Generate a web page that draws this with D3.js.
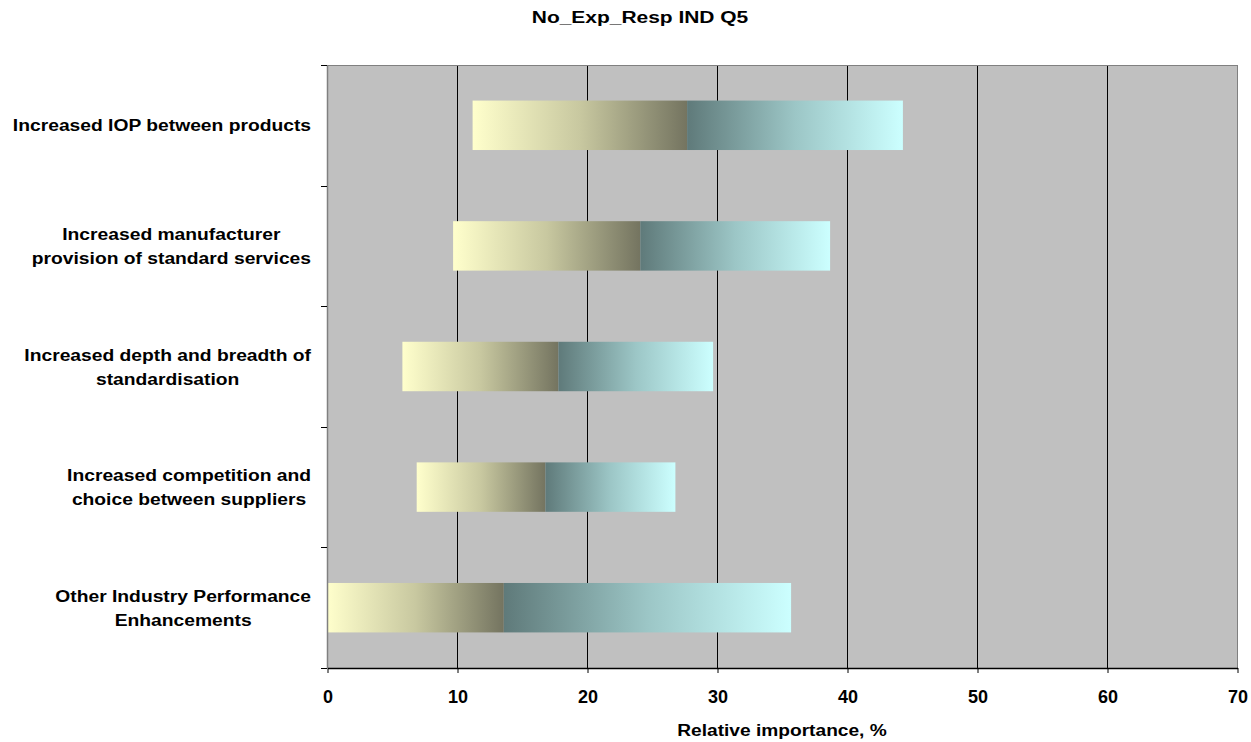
<!DOCTYPE html>
<html><head><meta charset="utf-8">
<script src="https://cdn.jsdelivr.net/npm/d3@7"></script>
<style>body{margin:0;background:#fff;} text{font-family:"Liberation Sans",Arial,sans-serif;font-weight:bold;fill:#000;}</style>
</head><body><svg id="c" width="1251" height="742"></svg>
<script>
const categories = [
  ["Increased IOP between products"],
  ["Increased manufacturer","provision of standard services"],
  ["Increased depth and breadth of","standardisation"],
  ["Increased competition and","choice between suppliers"],
  ["Other Industry Performance","Enhancements"]
];
const startValues = [11.2, 9.7, 5.8, 6.9, 0];
const midValues   = [27.7, 24.1, 17.8, 16.8, 13.6];
const endValues   = [44.3, 38.7, 29.7, 26.8, 35.7];
const xTicks = [0,10,20,30,40,50,60,70];
const title = "No_Exp_Resp IND Q5";
const xTitle = "Relative importance, %";

const svg = d3.select("#c");
const L=327, R=1237, T=65, B=668;
const x = d3.scaleLinear().domain([0,70]).range([L,R]);
const y = d3.scaleBand().domain(d3.range(categories.length)).range([T,B]).paddingInner(0.59).paddingOuter(0.295);
const yb = d3.scaleBand().domain(d3.range(categories.length)).range([T,B]);

const defs = svg.append("defs");
const g1 = defs.append("linearGradient").attr("id","gL");
g1.append("stop").attr("offset","0%").attr("stop-color","#ffffcc");
g1.append("stop").attr("offset","50%").attr("stop-color","#c8c8a0");
g1.append("stop").attr("offset","100%").attr("stop-color","#747460");
const g2 = defs.append("linearGradient").attr("id","gR");
g2.append("stop").attr("offset","0%").attr("stop-color","#5f7a7a");
g2.append("stop").attr("offset","50%").attr("stop-color","#9cc6c6");
g2.append("stop").attr("offset","100%").attr("stop-color","#ccffff");

svg.append("rect").attr("x",L).attr("y",T).attr("width",R-L).attr("height",B-T).attr("fill","#c0c0c0");
svg.append("g").selectAll("line").data(xTicks.slice(1,-1)).join("line")
  .attr("x1",d=>Math.round(x(d))+0.5).attr("x2",d=>Math.round(x(d))+0.5).attr("y1",T).attr("y2",B).attr("stroke","#000").attr("stroke-width",1);
svg.append("line").attr("x1",L).attr("x2",R).attr("y1",T+0.5).attr("y2",T+0.5).attr("stroke","#808080");
svg.append("line").attr("x1",R+0.5).attr("x2",R+0.5).attr("y1",T).attr("y2",B).attr("stroke","#808080");

const bars = svg.append("g");
categories.forEach((c,i)=>{
  bars.append("rect").attr("x",x(startValues[i])).attr("y",y(i)).attr("width",x(midValues[i])-x(startValues[i])).attr("height",y.bandwidth()).attr("fill","url(#gL)");
  bars.append("rect").attr("x",x(midValues[i])).attr("y",y(i)).attr("width",x(endValues[i])-x(midValues[i])).attr("height",y.bandwidth()).attr("fill","url(#gR)");
});

// left axis
svg.append("line").attr("x1",L+0.5).attr("x2",L+0.5).attr("y1",T).attr("y2",B).attr("stroke","#808080").attr("stroke-width",1.5);
const bounds = d3.range(categories.length+1).map(i=> i<categories.length? yb(i) : B);
svg.append("g").selectAll("line").data(bounds).join("line")
  .attr("x1",L-6).attr("x2",L).attr("y1",d=>Math.round(d)+0.5).attr("y2",d=>Math.round(d)+0.5).attr("stroke","#000");

// bottom axis
const xa = svg.append("g").attr("transform",`translate(0.5,${B})`).call(d3.axisBottom(x).tickValues(xTicks).tickSize(5).tickSizeOuter(0).tickPadding(17));
xa.select(".domain").attr("stroke","#000").attr("stroke-width",1.5);
xa.selectAll(".tick line").attr("stroke","#000");
xa.selectAll("text").style("font-size","18px").style("font-family","'Liberation Sans',Arial,sans-serif").style("font-weight","bold").attr("fill","#000");

function stext(parent, str, cx, cy, size, sx, anchor){
  return parent.append("text").attr("font-size",size+"px").attr("text-anchor",anchor||"middle")
    .attr("transform",`translate(${cx},${cy}) scale(${sx},1)`).text(str);
}

// category labels
const SX = 1.12;
categories.forEach((lines,i)=>{
  const cy = yb(i)+yb.bandwidth()/2;
  const g = svg.append("g");
  const ts = lines.map((ln,k)=> g.append("text").attr("font-size","17.2px").attr("text-anchor","middle").text(ln));
  const w = d3.max(ts, t=>t.node().getComputedTextLength())*SX;
  ts.forEach((t,k)=>t.attr("transform",`translate(${311 - w/2},${cy + (k-(lines.length-1)/2)*24 + 6}) scale(${SX},1)`));
});

stext(svg, title, 640, 23, 16, 1.31);
stext(svg, xTitle, (L+R)/2, 736, 16.8, 1.14);
</script></body></html>
